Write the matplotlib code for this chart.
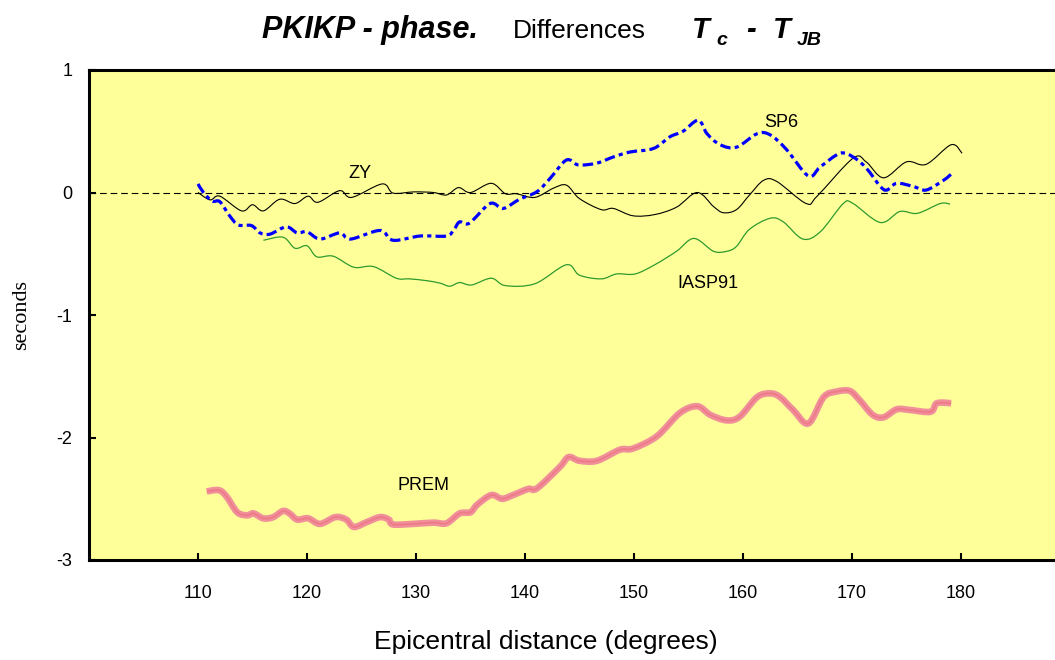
import numpy as np
import matplotlib
matplotlib.use('Agg')
import matplotlib.pyplot as plt
from matplotlib.path import Path
from matplotlib.patches import PathPatch
from matplotlib.transforms import IdentityTransform

plt.rcParams['font.family'] = ['Liberation Sans', 'DejaVu Sans']

# ZY model minus JB travel times (seconds)
zy_deg = [110.0, 111.1, 112.0, 114.0, 115.0, 116.0, 117.5, 118.9, 120.1, 121.0,
          123.0, 124.1, 126.9, 127.9, 129.8, 131.6, 132.8, 133.9, 135.0, 136.9,
          138.2, 139.2, 140.9, 142.6, 143.8, 145.0, 147.0, 148.1, 149.9, 151.9,
          153.9, 155.8, 157.3, 158.2, 159.4, 160.6, 161.9, 163.1, 165.8, 166.8,
          170.1, 171.3, 172.9, 175.0, 176.8, 179.1, 180.1]
zy_sec = [0.0, -0.06, -0.03, -0.15, -0.10, -0.15, -0.055, -0.09, -0.03, -0.08,
          0.015, -0.04, 0.07, -0.005, 0.005, 0.0, -0.02, 0.04, 0.0, 0.075,
          -0.01, -0.01, -0.04, 0.035, 0.06, -0.05, -0.14, -0.13, -0.19, -0.18,
          -0.12, 0.0, -0.115, -0.165, -0.14, -0.02, 0.10, 0.09, -0.09, -0.03,
          0.28, 0.25, 0.12, 0.25, 0.23, 0.39, 0.32]

# SP6
sp6_deg = [110.0, 110.5, 111.3, 112.0, 112.9, 113.7, 114.9, 115.7, 116.6, 118.1,
           119.1, 120.0, 121.2, 123.0, 124.0, 126.7, 127.9, 130.4, 132.8, 133.5,
           134.0, 134.9, 136.8, 138.0, 139.5, 141.1, 142.3, 143.8, 144.9, 146.6,
           148.1, 149.6, 151.8, 153.3, 154.5, 155.9, 156.7, 157.9, 159.4, 161.3,
           162.5, 164.0, 166.0, 167.1, 168.9, 170.1, 171.3, 172.6, 173.2, 174.1,
           175.6, 176.8, 178.4, 179.1]
sp6_sec = [0.07, 0.0, -0.07, -0.075, -0.19, -0.265, -0.27, -0.33, -0.34, -0.28,
           -0.33, -0.32, -0.38, -0.33, -0.38, -0.31, -0.39, -0.355, -0.355, -0.30,
           -0.24, -0.25, -0.09, -0.13, -0.055, 0.007, 0.115, 0.265, 0.225, 0.24,
           0.29, 0.33, 0.36, 0.455, 0.50, 0.59, 0.48, 0.39, 0.37, 0.48,
           0.47, 0.35, 0.135, 0.21, 0.32, 0.29, 0.20, 0.05, 0.02, 0.075,
           0.05, 0.02, 0.10, 0.15]

# IASP91
iasp_deg = [116.0, 117.8, 118.9, 120.0, 120.9, 122.4, 124.3, 126.1, 128.2, 129.4,
            131.0, 132.2, 133.1, 134.0, 135.1, 136.9, 138.2, 140.9, 143.8, 145.0,
            147.0, 148.4, 150.1, 151.9, 153.9, 155.5, 157.3, 158.5, 159.4, 160.6,
            162.5, 163.7, 165.5, 167.1, 169.2, 170.1, 172.6, 174.4, 176.0, 178.1,
            179.0]
iasp_sec = [-0.39, -0.365, -0.455, -0.435, -0.525, -0.52, -0.61, -0.605, -0.70, -0.705,
            -0.72, -0.74, -0.765, -0.735, -0.755, -0.70, -0.76, -0.745, -0.59, -0.675,
            -0.705, -0.665, -0.665, -0.59, -0.48, -0.375, -0.48, -0.48, -0.44, -0.30,
            -0.21, -0.24, -0.38, -0.32, -0.09, -0.09, -0.245, -0.155, -0.17, -0.09,
            -0.095]

# PREM
prem_deg = [110.8, 111.9, 112.6, 113.6, 114.5, 115.1, 116.0, 116.9, 117.8, 118.4,
            119.1, 120.1, 121.2, 122.6, 123.6, 124.3, 125.5, 126.7, 127.5, 127.9,
            129.8, 131.6, 132.8, 134.0, 135.0, 135.6, 136.9, 137.9, 138.9, 140.3,
            141.1, 143.2, 144.0, 145.0, 146.6, 148.7, 149.9, 152.1, 154.2, 155.8,
            157.0, 158.5, 159.7, 161.3, 162.5, 163.4, 164.6, 166.0, 167.4, 168.6,
            169.8, 170.7, 171.9, 172.9, 174.1, 175.3, 177.2, 177.8, 179.1]
prem_sec = [-2.44, -2.43, -2.48, -2.61, -2.635, -2.62, -2.66, -2.65, -2.60, -2.62,
            -2.67, -2.66, -2.705, -2.65, -2.67, -2.73, -2.69, -2.65, -2.67, -2.71,
            -2.705, -2.695, -2.70, -2.62, -2.61, -2.55, -2.47, -2.50, -2.47, -2.42,
            -2.415, -2.24, -2.16, -2.19, -2.19, -2.10, -2.09, -1.99, -1.80, -1.745,
            -1.815, -1.86, -1.83, -1.67, -1.64, -1.67, -1.775, -1.885, -1.67, -1.625,
            -1.62, -1.695, -1.815, -1.835, -1.77, -1.775, -1.79, -1.72, -1.72]

xticks = [110, 120, 130, 140, 150, 160, 170, 180]
yticks = [-3, -2, -1, 0, 1]


def smooth_line(ax, xs, ys, **kw):
    # smoothed line like a spreadsheet chart: bezier segments through every point
    p = np.column_stack([xs, ys])
    n = len(p)
    verts = [p[0]]
    codes = [Path.MOVETO]
    for i in range(n - 1):
        p0 = p[max(i - 1, 0)]
        p1 = p[i]
        p2 = p[i + 1]
        p3 = p[min(i + 2, n - 1)]
        verts += [p1 + (p2 - p0) / 6, p2 - (p3 - p1) / 6, p2]
        codes += [Path.CURVE4] * 3
    patch = PathPatch(Path(verts, codes), fill=False, **kw)
    ax.add_patch(patch)
    return patch


fig = plt.figure(figsize=(10.55, 6.6), dpi=100)
fig.patch.set_facecolor('white')
ax = fig.add_axes([89 / 1055, 100 / 660, 981 / 1055, 490 / 660])
ax.set_facecolor('#ffff99')

ax.axhline(0, color='black', lw=0.8, linestyle=(0, (6, 3.5)), zorder=1)

smooth_line(ax, prem_deg, prem_sec, edgecolor='#f0909b', lw=4.8, capstyle='butt', zorder=2)
smooth_line(ax, prem_deg, prem_sec, edgecolor='#e8505f', lw=1.5, alpha=0.3, zorder=2)
smooth_line(ax, iasp_deg, iasp_sec, edgecolor='#2e9a2e', lw=0.9, zorder=3)
smooth_line(ax, zy_deg, zy_sec, edgecolor='black', lw=0.8, zorder=4)
smooth_line(ax, sp6_deg, sp6_sec, edgecolor='#0000ff', lw=2.3,
            linestyle=(0, (3.3, 1.3, 1.3, 1.3)), zorder=5)

ax.text(124.9, 0.157, 'ZY', fontsize=13, ha='center', va='center')
ax.text(163.5, 0.57, 'SP6', fontsize=13, ha='center', va='center')
ax.text(156.8, -0.74, 'IASP91', fontsize=13, ha='center', va='center')
ax.text(130.7, -2.39, 'PREM', fontsize=13, ha='center', va='center')

ax.set_xlim(100, 190)
ax.set_ylim(-3, 1)
ax.set_xticks(xticks)
ax.set_yticks(yticks)
ax.set_yticklabels([str(t) for t in yticks])
ax.tick_params(direction='in', length=5, width=1.5, labelsize=13, pad=12)
ax.tick_params(axis='x', pad=18)
for side in ['left', 'bottom', 'top']:
    ax.spines[side].set_linewidth(2.2)
ax.spines['right'].set_visible(False)

fig.text(546 / 1055, 1 - 642 / 660, 'Epicentral distance (degrees)', fontsize=19,
         ha='center', va='center')
fig.text(22 / 1055, 1 - 315 / 660, 'seconds', fontsize=16, rotation=90,
         family=['Liberation Serif', 'DejaVu Serif'], ha='center', va='center')

# title pieces: (text, weight, style, size, left x px, baseline shift px)
pieces = [
    ('PKIKP - phase.', 'bold', 'italic', 22, 262, 0),
    ('Differences', 'normal', 'normal', 19, 513, 0),
    ('T', 'bold', 'italic', 21, 692, 0),
    ('c', 'bold', 'italic', 14, 716, -7),
    ('-', 'bold', 'italic', 21, 746, 0),
    ('T', 'bold', 'italic', 21, 773, 0),
    ('JB', 'bold', 'italic', 14, 797, -7),
]
title_base = 660 - 38
for s, w, st, fs, x0, dy in pieces:
    fig.text(x0, title_base + dy, s, fontsize=fs, fontweight=w, fontstyle=st,
             transform=IdentityTransform(), va='baseline', ha='left')

fig.savefig('out.png', dpi=100)
